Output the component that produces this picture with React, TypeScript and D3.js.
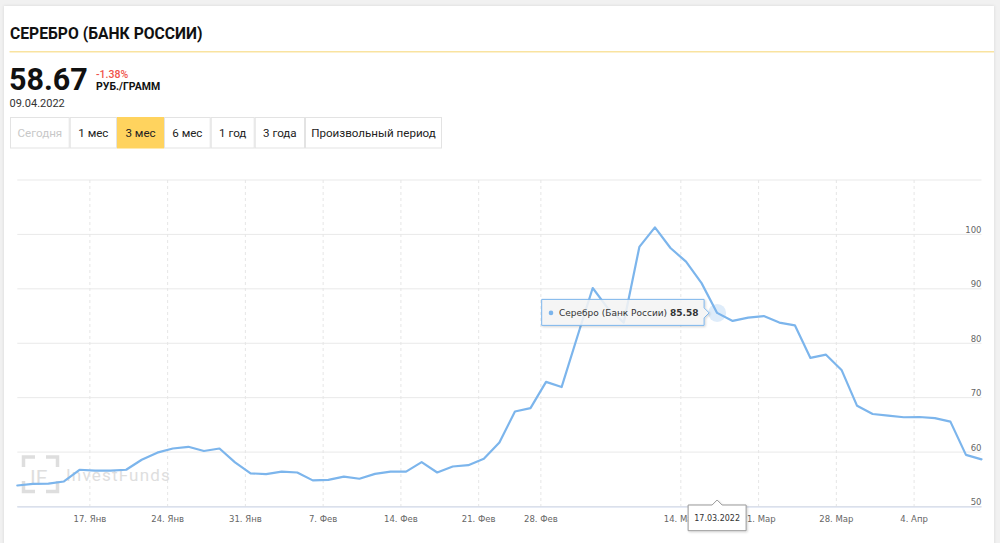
import React from "react";
import * as d3 from "d3";

// ---- data ----
const dates: string[] = [
  "2022-01-11", "2022-01-12", "2022-01-13", "2022-01-14", "2022-01-15",
  "2022-01-18", "2022-01-19", "2022-01-20", "2022-01-21", "2022-01-22",
  "2022-01-25", "2022-01-26", "2022-01-27", "2022-01-28", "2022-01-29",
  "2022-02-01", "2022-02-02", "2022-02-03", "2022-02-04", "2022-02-05",
  "2022-02-08", "2022-02-09", "2022-02-10", "2022-02-11", "2022-02-12",
  "2022-02-15", "2022-02-16", "2022-02-17", "2022-02-18", "2022-02-19",
  "2022-02-22", "2022-02-23", "2022-02-25", "2022-02-26",
  "2022-03-01", "2022-03-02", "2022-03-03", "2022-03-04", "2022-03-05",
  "2022-03-09", "2022-03-10", "2022-03-11", "2022-03-12",
  "2022-03-15", "2022-03-16", "2022-03-17", "2022-03-18", "2022-03-19",
  "2022-03-22", "2022-03-23", "2022-03-24", "2022-03-25", "2022-03-26",
  "2022-03-29", "2022-03-30", "2022-03-31", "2022-04-01", "2022-04-02",
  "2022-04-05", "2022-04-06", "2022-04-07", "2022-04-08", "2022-04-09",
];

const values: number[] = [
  53.86, 54.17, 54.2, 54.6, 56.75,
  56.6, 56.6, 56.75, 58.6, 59.9,
  60.66, 60.97, 60.2, 60.66, 58.1,
  56.1, 55.95, 56.4, 56.25, 54.8,
  54.9, 55.5, 55.1, 56.0, 56.4,
  56.4, 58.15, 56.25, 57.35, 57.6,
  58.77, 61.77, 67.46, 68.08,
  72.9, 71.95, 81.1, 90.15, 86.3,
  83.8, 97.7, 101.3, 97.5,
  95.0, 91.05, 85.58, 84.1, 84.7,
  85.0, 83.8, 83.3, 77.3, 77.9,
  75.1, 68.5, 67.0, 66.7, 66.4,
  66.45, 66.25, 65.6, 59.49, 58.67,
];

const yTicks: number[] = [50, 60, 70, 80, 90, 100, 110];
const yLabelTicks: number[] = [50, 60, 70, 80, 90, 100];

const xTickDates: string[] = [
  "2022-01-17", "2022-01-24", "2022-01-31", "2022-02-07", "2022-02-14", "2022-02-21",
  "2022-02-28", "2022-03-14", "2022-03-21", "2022-03-28", "2022-04-04",
];
const xTickLabels: string[] = [
  "17. Янв", "24. Янв", "31. Янв", "7. Фев", "14. Фев", "21. Фев",
  "28. Фев", "14. Мар", "21. Мар", "28. Мар", "4. Апр",
];

const buttonLabels: string[] = ["Сегодня", "1 мес", "3 мес", "6 мес", "1 год", "3 года", "Произвольный период"];
const activeButton = "3 мес";
const disabledButton = "Сегодня";

const title = "СЕРЕБРО (БАНК РОССИИ)";
const seriesName = "Серебро (Банк России)";
const lastValue = "58.67";
const changeText = "-1.38%";
const unitText = "РУБ./ГРАММ";
const lastDate = "09.04.2022";
const hoverIndex = 45;
const hoverLabel = "17.03.2022";

// ---- layout ----
const W = 1000;
const H = 543;
const plotLeft = 17.3;
const plotRight = 981.5;
const plotTop = 180;
const plotBottom = 506.5;
const buttonEdges = [10, 69.7, 117, 164, 210.7, 254.7, 305, 442];

const times = dates.map((d) => +new Date(d + "T00:00:00Z"));
function ordinalIndex(dateStr: string): number {
  const t = +new Date(dateStr + "T00:00:00Z");
  for (let i = 0; i < times.length - 1; i++) {
    if (t >= times[i] && t <= times[i + 1]) {
      return i + (t - times[i]) / (times[i + 1] - times[i]);
    }
  }
  return 0;
}

const axisFont = "'DejaVu Sans', Verdana, sans-serif";
const uiFont = "Roboto, 'Noto Sans', Arial, sans-serif";

export default function App() {
  const x = d3.scaleLinear().domain([0, values.length - 1]).range([plotLeft, plotRight]);
  const y = d3.scaleLinear().domain([50, 110]).range([plotBottom, plotTop]);
  const line = d3
    .line<number>()
    .x((_, i) => x(i))
    .y((d) => y(d));

  const hx = x(hoverIndex);
  const hy = y(values[hoverIndex]);

  const ttRight = hx - 13;
  const ttLeft = 541.7;
  const ttTop = hy - 13.5;
  const ttBottom = hy + 12.5;
  const ttPath = `M${ttLeft},${ttTop} L${ttRight},${ttTop} L${ttRight},${hy - 5} L${hx - 8},${hy} L${ttRight},${hy + 5} L${ttRight},${ttBottom} L${ttLeft},${ttBottom} Z`;

  const clW = 58;
  const clTop = 505;
  const clBottom = 530.7;
  const clPath = `M${hx - clW / 2},${clTop} L${hx - 5},${clTop} L${hx},${clTop - 5} L${hx + 5},${clTop} L${hx + clW / 2},${clTop} L${hx + clW / 2},${clBottom} L${hx - clW / 2},${clBottom} Z`;

  return (
    <>
      <style>{"body{margin:0;}"}</style>
      <svg width={W} height={H} style={{ display: "block" }}>
        <defs>
          <filter id="cardShadow" x="-5%" y="-5%" width="110%" height="110%">
            <feDropShadow dx="0" dy="0" stdDeviation="1.5" floodColor="#000" floodOpacity="0.12" />
          </filter>
          <filter id="ttShadow" x="-10%" y="-20%" width="130%" height="160%">
            <feDropShadow dx="1" dy="1" stdDeviation="1" floodColor="#000" floodOpacity="0.18" />
          </filter>
        </defs>
        <rect x={0} y={0} width={W} height={H} fill="#f1f1f1" />
        <rect x={4} y={6} width={990} height={H} fill="#fff" filter="url(#cardShadow)" />

        {/* header */}
        <text x={10} y={39} fontFamily={uiFont} fontWeight={700} fontSize={15.7} fill="#111">
          {title}
        </text>
        <line x1={9.5} x2={994} y1={51.7} y2={51.7} stroke="#f9e3a0" strokeWidth={1.5} />
        <text x={9} y={90} fontFamily={uiFont} fontWeight={700} fontSize={30.5} fill="#111">
          {lastValue}
        </text>
        <text x={96} y={77.5} fontFamily={uiFont} fontWeight={500} fontSize={10.5} fill="#f0524a">
          {changeText}
        </text>
        <text x={96} y={90} fontFamily={uiFont} fontWeight={700} fontSize={10.5} fill="#111">
          {unitText}
        </text>
        <text x={9.5} y={106.8} fontFamily={uiFont} fontSize={11} fill="#333">
          {lastDate}
        </text>

        {/* period buttons */}
        {buttonLabels.map((lab, i) => {
          const x0 = buttonEdges[i];
          const x1 = buttonEdges[i + 1];
          const active = lab === activeButton;
          const disabled = lab === disabledButton;
          return (
            <g key={lab}>
              <rect
                x={x0 + 0.5}
                y={117.5}
                width={x1 - x0 - 1}
                height={30.5}
                fill={active ? "#ffd35e" : "#fff"}
                stroke={active ? "#ffd35e" : "#e3e3e3"}
                strokeWidth={1}
              />
              <text
                x={(x0 + x1) / 2}
                y={136.8}
                textAnchor="middle"
                fontFamily={uiFont}
                fontSize={11.6}
                fill={disabled ? "#c8c8c8" : "#222"}
              >
                {lab}
              </text>
            </g>
          );
        })}

        {/* horizontal grid */}
        {yTicks.map((t) => (
          <line key={"hg" + t} x1={plotLeft} x2={plotRight} y1={y(t)} y2={y(t)} stroke="#e9e9e9" strokeWidth={1} />
        ))}
        {/* vertical dashed grid */}
        {xTickDates.map((d) => {
          const px = x(ordinalIndex(d));
          return (
            <line key={"vg" + d} x1={px} x2={px} y1={plotTop} y2={plotBottom} stroke="#e6e6e6" strokeWidth={1} strokeDasharray="3,3" />
          );
        })}
        <line x1={plotLeft} x2={plotRight} y1={plotBottom + 0.5} y2={plotBottom + 0.5} stroke="#ccd6eb" strokeWidth={1} />

        {/* watermark */}
        <g stroke="#dedede" strokeWidth={3.5} fill="none">
          <path d="M23.5,467 L23.5,457 L35,457" />
          <path d="M46,457 L57.5,457 L57.5,467" />
          <path d="M23.5,481 L23.5,491.5 L35,491.5" />
          <path d="M46,491.5 L57.5,491.5 L57.5,481" />
        </g>
        <text x={30} y={485} fontFamily={uiFont} fontSize={21} fill="#dedede" fontWeight={400}>
          IF
        </text>
        <text x={66} y={481} fontFamily={uiFont} fontSize={17} fill="#dedede" letterSpacing={1.2}>
          InvestFunds
        </text>

        {/* y labels */}
        {yLabelTicks.map((t) => (
          <text key={"yl" + t} x={981.5} y={y(t) - 1.5} textAnchor="end" fontFamily={axisFont} fontSize={8.5} fill="#666">
            {t}
          </text>
        ))}
        {/* x labels */}
        {xTickDates.map((d, i) => (
          <text
            key={"xl" + d}
            x={x(ordinalIndex(d))}
            y={521.5}
            textAnchor="middle"
            fontFamily={axisFont}
            fontSize={8.5}
            fill="#666"
          >
            {xTickLabels[i]}
          </text>
        ))}

        {/* series line */}
        <path d={line(values) || ""} fill="none" stroke="#7cb5ec" strokeWidth={2.2} strokeLinejoin="round" strokeLinecap="round" />

        {/* hover halo */}
        <circle cx={hx} cy={hy} r={9} fill="#7cb5ec" opacity={0.25} />

        {/* tooltip */}
        <path d={ttPath} fill="rgba(247,247,247,0.85)" stroke="#7cb5ec" strokeWidth={1} filter="url(#ttShadow)" />
        <circle cx={ttLeft + 9.3} cy={hy} r={2.3} fill="#7cb5ec" />
        <text x={ttLeft + 17.3} y={hy + 3} fontFamily={axisFont} fontSize={9} fill="#333">
          {seriesName + " "}
          <tspan fontWeight={700}>{values[hoverIndex].toFixed(2)}</tspan>
        </text>

        {/* crosshair x label */}
        <path d={clPath} fill="#fff" stroke="#999" strokeWidth={1} filter="url(#ttShadow)" />
        <text x={hx} y={521} textAnchor="middle" fontFamily={axisFont} fontSize={8} fill="#333">
          {hoverLabel}
        </text>
      </svg>
    </>
  );
}
